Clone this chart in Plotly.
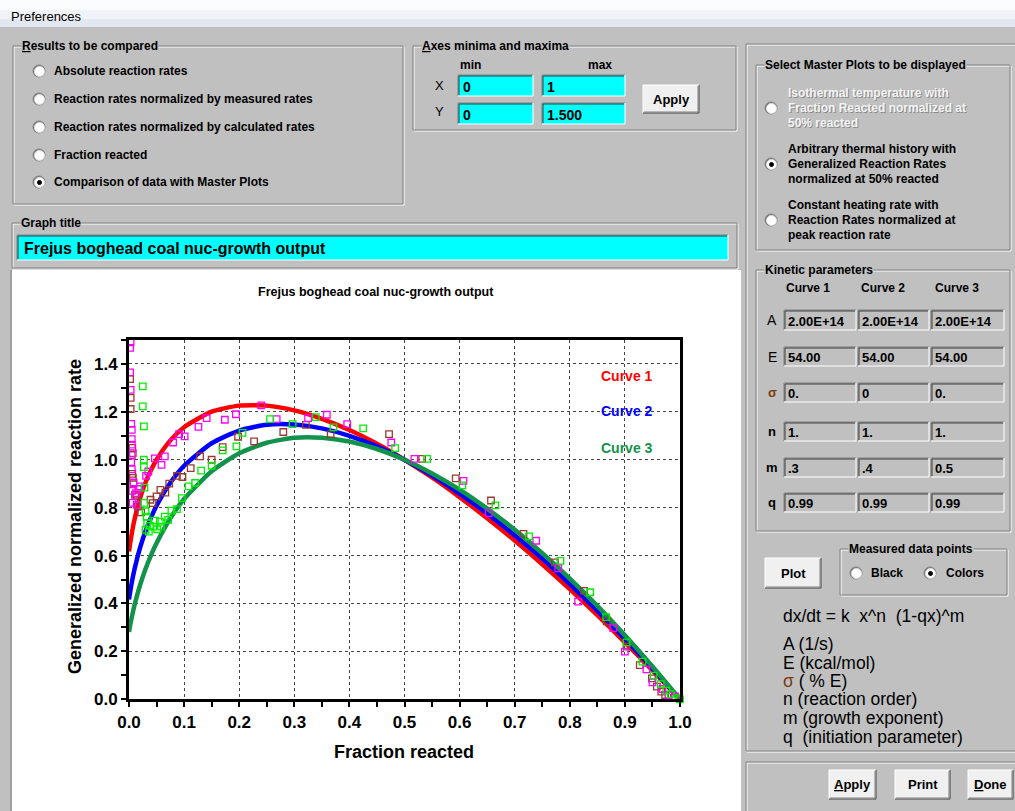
import plotly.graph_objects as go

W, H = 1015, 811
GRAY = "#C0C0C0"
FONT = "Arial, 'Liberation Sans', sans-serif"

# ---------------- data ----------------
frac = [0, 0.0025, 0.005, 0.01, 0.02, 0.03, 0.04, 0.05, 0.075, 0.1,
        0.15, 0.2, 0.25, 0.3, 0.35, 0.4, 0.45, 0.5,
        0.55, 0.6, 0.65, 0.7, 0.75, 0.8, 0.85, 0.9, 0.95, 1.0]
curve1 = [0.617, 0.657, 0.692, 0.751, 0.839, 0.905, 0.957, 1.000, 1.081, 1.136,
          1.201, 1.226, 1.226, 1.206, 1.171, 1.124, 1.067, 1.000,
          0.926, 0.844, 0.756, 0.663, 0.564, 0.460, 0.351, 0.238, 0.121, 0.0]
curve2 = [0.417, 0.454, 0.487, 0.543, 0.632, 0.702, 0.759, 0.808, 0.904, 0.975,
          1.069, 1.122, 1.146, 1.147, 1.131, 1.100, 1.056, 1.000,
          0.934, 0.859, 0.776, 0.685, 0.587, 0.481, 0.370, 0.252, 0.129, 0.0]
curve3 = [0.281, 0.314, 0.342, 0.393, 0.476, 0.544, 0.602, 0.652, 0.756, 0.836,
          0.952, 1.027, 1.071, 1.092, 1.092, 1.076, 1.045, 1.000,
          0.943, 0.875, 0.796, 0.708, 0.610, 0.504, 0.390, 0.267, 0.137, 0.0]
curve_names = ["Curve 1", "Curve 2", "Curve 3"]
curve_label_y = [1.351, 1.202, 1.051]

pink_x = [0.003, 0.002, 0.002, 0.003, 0.004, 0.005, 0.005, 0.005, 0.007, 0.004, 0.005, 0.008,
          0.006, 0.0066, 0.0127, 0.0139, 0.017, 0.020, 0.031, 0.035, 0.047, 0.059, 0.065,
          0.080, 0.091, 0.101, 0.126, 0.141, 0.174, 0.194, 0.240, 0.268, 0.325, 0.359,
          0.396, 0.476, 0.518, 0.607, 0.653, 0.739, 0.779, 0.815, 0.879, 0.900, 0.939,
          0.950, 0.968, 0.979, 0.991]
pink_y = [1.490, 1.467, 1.365, 1.292, 1.150, 1.125, 1.086, 1.063, 1.028, 0.990, 0.960, 0.905,
          0.870, 0.820, 0.861, 0.812, 0.878, 0.889, 0.933, 0.951, 1.006, 0.979, 1.014,
          1.072, 1.107, 1.098, 1.137, 1.174, 1.167, 1.190, 1.227, 1.170, 1.174, 1.188,
          1.149, 1.072, 1.004, 0.912, 0.777, 0.662, 0.547, 0.408, 0.297, 0.199, 0.125,
          0.071, 0.043, 0.018, 0.012]

brown_x = [0.002, 0.003, 0.003, 0.006, 0.005, 0.006, 0.007, 0.008, 0.011, 0.014, 0.016,
           0.022, 0.039, 0.043, 0.050, 0.057, 0.066, 0.073, 0.087, 0.097, 0.112, 0.129,
           0.150, 0.170, 0.198, 0.227, 0.280, 0.321, 0.366, 0.472, 0.532, 0.593, 0.657,
           0.716, 0.773, 0.826, 0.867, 0.903, 0.927, 0.949, 0.958, 0.966, 0.973, 0.989]
brown_y = [1.337, 1.258, 1.212, 1.050, 1.020, 0.941, 0.924, 0.903, 0.854, 0.847, 0.805,
           0.780, 0.833, 0.819, 0.847, 0.874, 0.863, 0.900, 0.933, 0.928, 0.965, 1.014,
           1.000, 1.053, 1.096, 1.077, 1.116, 1.146, 1.107, 1.107, 1.004, 0.922, 0.830,
           0.691, 0.572, 0.453, 0.325, 0.220, 0.143, 0.087, 0.053, 0.032, 0.018, 0.007]

lime_x = [0.025, 0.025, 0.027, 0.027, 0.027, 0.028, 0.028, 0.030, 0.032, 0.033, 0.030,
          0.036, 0.038, 0.044, 0.047, 0.051, 0.056, 0.058, 0.065, 0.071, 0.077, 0.087,
          0.096, 0.108, 0.120, 0.131, 0.150, 0.170, 0.195, 0.206, 0.256, 0.297, 0.339,
          0.371, 0.425, 0.483, 0.541, 0.605, 0.665, 0.726, 0.783, 0.837, 0.866, 0.903,
          0.932, 0.952, 0.965, 0.975, 0.983, 0.997, 1.0]
lime_y = [1.306, 1.223, 1.139, 1.000, 0.969, 0.884, 0.820, 0.785, 0.763, 0.735, 0.707,
          0.700, 0.724, 0.721, 0.746, 0.710, 0.742, 0.721, 0.763, 0.749, 0.788, 0.794,
          0.840, 0.889, 0.903, 0.955, 0.975, 1.039, 1.056, 1.112, 1.170, 1.149, 1.178,
          1.135, 1.131, 1.049, 1.004, 0.893, 0.810, 0.680, 0.578, 0.447, 0.343, 0.238,
          0.157, 0.099, 0.063, 0.036, 0.022, 0.005, 0.0]

# ---------------- helpers for the dialog chrome ----------------
shapes, annotations = [], []


def rect(x0, y0, x1, y1, fill=None, line=None, lw=1):
    shapes.append(dict(type="rect", xref="paper", yref="paper",
                       x0=x0 / W, x1=x1 / W, y0=1 - y1 / H, y1=1 - y0 / H,
                       fillcolor=fill or "rgba(0,0,0,0)",
                       line=dict(color=line or "rgba(0,0,0,0)", width=lw if line else 0),
                       layer="below"))


def seg(x0, y0, x1, y1, color, lw=1):
    shapes.append(dict(type="line", xref="paper", yref="paper",
                       x0=x0 / W, x1=x1 / W, y0=1 - y0 / H, y1=1 - y1 / H,
                       line=dict(color=color, width=lw), layer="below"))


def circle(cx, cy, r, fill, line=None):
    shapes.append(dict(type="circle", xref="paper", yref="paper",
                       x0=(cx - r) / W, x1=(cx + r) / W, y0=1 - (cy + r) / H, y1=1 - (cy - r) / H,
                       fillcolor=fill, line=dict(color=line or fill, width=1), layer="below"))


def text(x, y, s, size=12, bold=True, color="black", anchor="left", bg=None, angle=0):
    a = dict(x=x / W, y=1 - y / H, xref="paper", yref="paper", text=s, showarrow=False,
             xanchor=anchor, yanchor="middle", textangle=angle, borderpad=0,
             font=dict(family=FONT, size=size, color=color, weight="bold" if bold else "normal"))
    if bg:
        a["bgcolor"] = bg
    annotations.append(a)


def group(x0, y0, x1, y1, label=None, lx=None):
    rect(x0 + 1, y0 + 1, x1 + 1, y1 + 1, line="white")
    rect(x0, y0, x1, y1, line="#808080")
    if label:
        text(lx if lx else x0 + 8, y0, label, bg=GRAY)


def radio(cx, cy, checked=False):
    circle(cx, cy, 6, "#808080")
    circle(cx + 0.5, cy + 0.5, 5, "white", "#DFDFDF")
    if checked:
        circle(cx + 0.5, cy + 0.5, 2, "black")


def sunken(x0, y0, x1, y1, fill):
    rect(x0, y0, x1, y1, fill=fill)
    seg(x0, y0, x1, y0, "#808080"); seg(x0, y0, x0, y1, "#808080")
    seg(x0 + 1, y0 + 1, x1 - 1, y0 + 1, "#404040"); seg(x0 + 1, y0 + 1, x0 + 1, y1 - 1, "#404040")
    seg(x0, y1, x1, y1, "white"); seg(x1, y0, x1, y1, "white")


def button(x0, y0, x1, y1, label):
    rect(x0, y0, x1, y1, fill="#F0F0F0")
    seg(x0, y0, x1, y0, "white"); seg(x0, y0, x0, y1, "white")
    seg(x0, y1, x1, y1, "#404040"); seg(x1, y0, x1, y1, "#404040")
    seg(x0 + 1, y1 - 1, x1 - 1, y1 - 1, "#808080"); seg(x1 - 1, y0 + 1, x1 - 1, y1 - 1, "#808080")
    text((x0 + x1) / 2, (y0 + y1) / 2, label, size=13, anchor="center")


# title bar
rect(0, 0, W, 10, fill="#FBFCFD")
rect(0, 10, W, 19, fill="#F0F3F7")
rect(0, 19, W, 27, fill="#E3E8F0")
seg(0, 27.5, W, 27.5, "#B9BEC6")
text(10, 16, "Preferences", size=13, bold=False)

# results group
group(13, 46, 403, 204, "<u>R</u>esults to be compared")
radio_labels = ["Absolute reaction rates", "Reaction rates normalized by measured rates",
                "Reaction rates normalized by calculated rates", "Fraction reacted",
                "Comparison of data with Master Plots"]
for i, (yy, lab) in enumerate(zip([71, 99, 127, 155, 182], radio_labels)):
    radio(39, yy, checked=(i == 4))
    text(53, yy, lab)

# axes group
group(413, 46, 736, 130, "<u>A</u>xes minima and maxima")
text(470, 65, "min", anchor="center")
text(600, 65, "max", anchor="center")
text(439, 85, "X", size=13, bold=False, anchor="center")
text(439, 112, "Y", size=13, bold=False, anchor="center")
for (x0, x1, y0, y1, v) in [(458, 533, 75, 96, "0"), (542, 625, 75, 96, "1"),
                            (458, 533, 103, 124, "0"), (542, 625, 103, 124, "1.500")]:
    sunken(x0, y0, x1, y1, "#00FFFF")
    text(x0 + 4, (y0 + y1) / 2 + 1, v, size=14)
button(643, 85, 699, 113, "Apply")

# graph title group
group(12, 223, 737, 268, "Graph title", lx=20)
sunken(17, 235, 728, 260, "#00FFFF")
text(23, 248, "Frejus boghead coal nuc-growth output", size=16)

# white chart panel
rect(12, 270, 741, 812, fill="white")
seg(11, 270, 11, 812, "#808080")

# right side panel
rect(747, 45, 1030, 752, line="white")
rect(746, 44, 1030, 751, line="#808080")
group(756, 65, 1010, 250, "Select Master Plots to be displayed", lx=764)
master_lines = [["Isothermal temperature with", "Fraction Reacted normalized at", "50% reacted"],
                ["Arbitrary thermal history with", "Generalized Reaction Rates", "normalized at 50% reacted"],
                ["Constant heating rate with", "Reaction Rates normalized at", "peak reaction rate"]]
for k, (yc, lines) in enumerate(zip([108, 164, 220], master_lines)):
    radio(771, yc, checked=(k == 1))
    for j, ln in enumerate(lines):
        yy = yc + (j - 1) * 15
        if k == 0:
            text(788, yy + 1, ln, color="#8A8A8A")
            text(787, yy, ln, color="#F4F4F4")
        else:
            text(787, yy, ln)

group(756, 270, 1010, 531, "Kinetic parameters", lx=764)
for cx, nm in zip([808, 883, 957], curve_names):
    text(cx, 288, nm, anchor="center")
param_rows = ["A", "E", "σ", "n", "m", "q"]
row_y = [(310, 330), (347, 366), (383, 402), (422, 441), (458, 477), (493, 512)]
param_vals = [["2.00E+14", "2.00E+14", "2.00E+14"], ["54.00", "54.00", "54.00"],
              ["0.", "0", "0."], ["1.", "1.", "1."], [".3", ".4", "0.5"],
              ["0.99", "0.99", "0.99"]]
col_x = [(784, 856), (858, 929), (931, 1004)]
for lab, (y0, y1), vals in zip(param_rows, row_y, param_vals):
    text(772, (y0 + y1) / 2, lab, size=14 if lab in "AE" else 13, bold=(lab != "A" and lab != "E"),
         color="#7A3A10" if lab == "σ" else "black", anchor="center")
    for (x0, x1), v in zip(col_x, vals):
        sunken(x0, y0, x1, y1, GRAY)
        text(x0 + 3, (y0 + y1) / 2 + 1, v, size=13)

button(765, 558, 821, 588, "Plot")
group(840, 549, 1007, 595, "Measured data points", lx=848)
radio(856, 573, False)
text(870, 573, "Black")
radio(930, 573, True)
text(945, 573, "Colors")

NB = "\u00a0"
text(782, 616, "dx/dt = k" + NB * 2 + "x^n" + NB * 2 + "(1-qx)^m", size=17.5, bold=False)
legend_lines = ["A (1/s)", "E (kcal/mol)", "σ ( % E)", "n (reaction order)",
                "m (growth exponent)", "q" + NB * 2 + "(initiation parameter)"]
for yy, ln in zip([644, 663, 681, 699, 718, 737], legend_lines):
    if ln.startswith("σ"):
        text(782, yy, "<span style='color:#7A3A10'>σ</span>" + ln[1:], size=17.5, bold=False)
    else:
        text(782, yy, ln, size=17.5, bold=False)

rect(747, 763, 1030, 815, line="white")
rect(746, 762, 1030, 814, line="#808080")
button(829, 770, 876, 799, "<u>A</u>pply")
button(895, 770, 950, 799, "Print")
button(968, 770, 1013, 799, "<u>D</u>one")

# ---------------- chart ----------------
fig = go.Figure()
curve_colors = ["#FF0000", "#0000FF", "#13924B"]
for ys, col, nm in zip([curve1, curve2, curve3], curve_colors, curve_names):
    fig.add_trace(go.Scatter(x=frac, y=ys, mode="lines", name=nm,
                             line=dict(color=col, width=4.5, shape="spline", smoothing=0.6)))

for xs, ys, col in [(brown_x, brown_y, "#9A3A30"), (pink_x, pink_y, "#FF00FF"), (lime_x, lime_y, "#00EE00")]:
    fig.add_trace(go.Scatter(x=xs, y=ys, mode="markers", cliponaxis=False,
                             marker=dict(symbol="square-open", size=6.5, color=col,
                                         line=dict(width=1.3, color=col))))

for nm, yy, col in zip(curve_names, curve_label_y, curve_colors):
    annotations.append(dict(x=0.903, y=yy, xref="x", yref="y", text=nm, showarrow=False,
                            xanchor="center", yanchor="middle",
                            font=dict(family=FONT, size=14, color=col, weight="bold")))

text(376, 292, "Frejus boghead coal nuc-growth output", size=12.5, anchor="center")
text(404, 752, "Fraction reacted", size=18, anchor="center")
text(75, 517, "Generalized normalized reaction rate", size=18, anchor="center", angle=-90)

axis_common = dict(showline=True, linecolor="black", linewidth=3, mirror=True,
                   ticks="outside", ticklen=5, tickwidth=2, tickcolor="black",
                   showgrid=True, gridcolor="#444444", griddash="dot", gridwidth=1,
                   zeroline=False, tickformat=".1f", automargin=False,
                   tickfont=dict(family=FONT, size=17, color="black", weight="bold"))

fig.update_layout(
    width=W, height=H, autosize=False, margin=dict(l=0, r=0, t=0, b=0, autoexpand=False),
    paper_bgcolor=GRAY, plot_bgcolor="white", showlegend=False,
    xaxis=dict(domain=[129 / W, 680 / W], range=[0, 1], tick0=0, dtick=0.1,
               minor=dict(dtick=0.05, ticks="outside", ticklen=5, tickwidth=2,
                          tickcolor="black", showgrid=False),
               **axis_common),
    yaxis=dict(domain=[1 - 699.3 / H, 1 - 340 / H], range=[0, 1.5], tick0=0, dtick=0.2,
               minor=dict(dtick=0.1, ticks="outside", ticklen=5, tickwidth=2,
                          tickcolor="black", showgrid=False),
               **axis_common),
    shapes=shapes, annotations=annotations,
)

# The page body has a default 8px margin; remove it at once and make sure the
# figure keeps its intended 1015x811 size afterwards.
page_fix = (
    "var gd0=document.getElementById('{plot_id}');"
    "if(gd0){Plotly.relayout(gd0,{width:%d,height:%d});}"
    "}); (function(){var d=document;"
    "d.documentElement.style.background='%s';d.documentElement.style.margin='0';"
    "d.body.style.margin='0';d.body.style.padding='0';d.body.style.overflow='hidden';"
    "var gd=d.getElementById('{plot_id}');"
    "if(gd){gd.style.width='%dpx';gd.style.height='%dpx';}})(); (function(){"
) % (W, H, GRAY, W, H)
fig.write_html("out.html", config={"displayModeBar": False, "responsive": False},
               post_script=page_fix)
